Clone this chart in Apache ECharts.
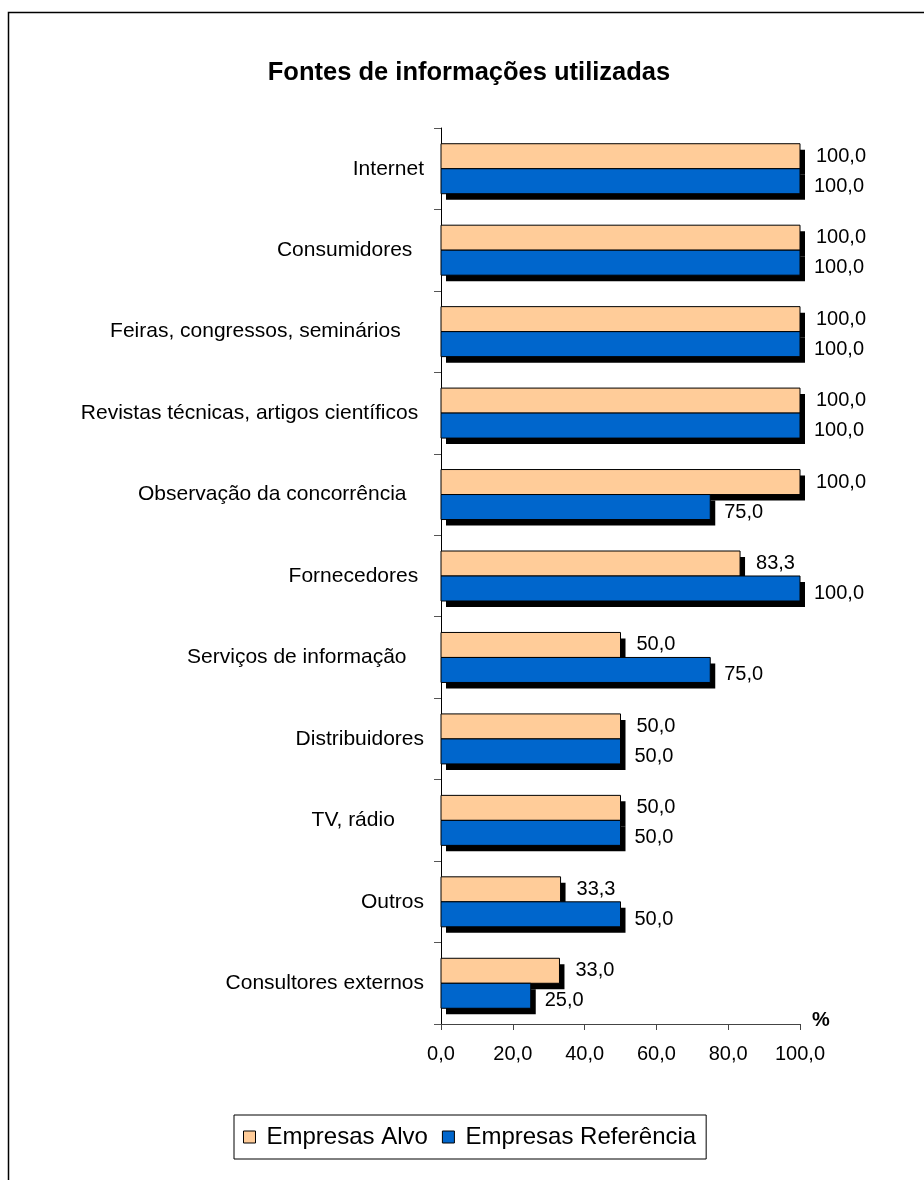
<!DOCTYPE html>
<html>
<head>
<meta charset="utf-8">
<script src="https://cdn.jsdelivr.net/npm/echarts@6/dist/echarts.min.js"></script>
<style>
  html, body { margin: 0; padding: 0; background: #fff; }
  #chart { width: 924px; height: 1180px; }
</style>
</head>
<body>
<div id="chart"></div>
<script>
// Information sources used by companies (%)
const categories = [
  'Internet',
  'Consumidores  ',
  'Feiras, congressos, seminários    ',
  'Revistas técnicas, artigos científicos ',
  'Observação da concorrência   ',
  'Fornecedores ',
  'Serviços de informação   ',
  'Distribuidores',
  'TV, rádio     ',
  'Outros',
  'Consultores externos'
];
const empresasAlvo =       [100.0, 100.0, 100.0, 100.0, 100.0, 83.3, 50.0, 50.0, 50.0, 33.3, 33.0];
const empresasReferencia = [100.0, 100.0, 100.0, 100.0,  75.0, 100.0, 75.0, 50.0, 50.0, 50.0, 25.0];
const xTicks = [0, 20, 40, 60, 80, 100];
const seriesNames = ['Empresas Alvo', 'Empresas Referência'];
const seriesColors = ['#FFCC99', '#0066CC'];

const FONT = 'Arial, "Liberation Sans", sans-serif';
const fmt = v => Number(v).toFixed(1).replace('.', ',');

const BAR_H = 25;          // thickness of one bar, px
const SHADOW = [5, 6];     // drop shadow offset, px

// Bar with a solid drop shadow and its value label; slot 0 sits above the
// category centre, slot 1 below it.
function makeRenderItem(slot, labelGap, labelDy) {
  return function (params, api) {
    const value = api.value(0);
    const cat = api.value(1);
    const p0 = api.coord([0, cat]);
    const p1 = api.coord([value, cat]);
    const top = p0[1] - BAR_H + slot * BAR_H;
    const w = p1[0] - p0[0];
    return {
      type: 'group',
      children: [
        {
          type: 'rect',
          shape: { x: p0[0] + SHADOW[0], y: top + SHADOW[1], width: w, height: BAR_H },
          style: { fill: '#000' }
        },
        {
          type: 'rect',
          shape: { x: p0[0], y: top, width: w, height: BAR_H },
          style: { fill: seriesColors[slot], stroke: '#000', lineWidth: 1 }
        },
        {
          type: 'text',
          style: {
            x: p1[0] + labelGap,
            y: top + BAR_H / 2 + labelDy,
            text: fmt(value),
            fill: '#000',
            font: '20px ' + FONT,
            textAlign: 'left',
            textVerticalAlign: 'middle'
          }
        }
      ]
    };
  };
}

const chart = echarts.init(document.getElementById('chart'), null, { renderer: 'canvas' });

chart.setOption({
  backgroundColor: '#fff',
  animation: false,
  title: {
    text: 'Fontes de informações utilizadas',
    left: 464,
    top: 55,
    textAlign: 'center',
    textStyle: { fontFamily: FONT, fontSize: 25.5, fontWeight: 'bold', color: '#000' }
  },
  graphic: [{
    type: 'rect',
    shape: { x: 8.5, y: 12.5, width: 1000, height: 1300 },
    style: { fill: null, stroke: '#000', lineWidth: 1.5 },
    silent: true,
    z: -10
  }],
  legend: {
    data: seriesNames,
    left: 234,
    top: 1115,
    orient: 'horizontal',
    icon: 'rect',
    itemWidth: 12,
    itemHeight: 12,
    itemGap: 14,
    padding: [10, 10, 10, 9],
    borderColor: '#000',
    borderWidth: 1,
    backgroundColor: '#fff',
    itemStyle: { borderColor: '#000', borderWidth: 1 },
    textStyle: { fontFamily: FONT, fontSize: 24, color: '#000', padding: [0, 0, 0, 6] }
  },
  grid: { left: 441, right: 124, top: 128, bottom: 156, containLabel: false },
  xAxis: {
    type: 'value',
    min: xTicks[0],
    max: xTicks[xTicks.length - 1],
    interval: xTicks[1] - xTicks[0],
    name: '%',
    nameLocation: 'end',
    nameGap: 12,
    nameTextStyle: { fontFamily: FONT, fontSize: 20, fontWeight: 'bold', color: '#000', verticalAlign: 'bottom', padding: [0, 0, -6, 0] },
    splitLine: { show: false },
    axisLine: { show: true, lineStyle: { color: '#444', width: 1 } },
    axisTick: { show: true, inside: false, length: 6, lineStyle: { color: '#444' } },
    axisLabel: { formatter: fmt, fontFamily: FONT, fontSize: 20, color: '#000', margin: 20 }
  },
  yAxis: {
    type: 'category',
    inverse: true,
    data: categories,
    axisLine: { show: true, onZero: false, lineStyle: { color: '#000', width: 1 } },
    axisTick: { show: true, length: 7, alignWithLabel: false, lineStyle: { color: '#555' } },
    axisLabel: { fontFamily: FONT, fontSize: 21, color: '#000', margin: 17 },
    splitLine: { show: false }
  },
  series: [
    {
      name: seriesNames[0],
      type: 'custom',
      renderItem: makeRenderItem(0, 16, 0),
      data: empresasAlvo.map((v, i) => [v, i]),
      encode: { x: 0, y: 1 },
      itemStyle: { color: seriesColors[0] },
      clip: false,
      z: 2
    },
    {
      name: seriesNames[1],
      type: 'custom',
      renderItem: makeRenderItem(1, 14, 5),
      data: empresasReferencia.map((v, i) => [v, i]),
      encode: { x: 0, y: 1 },
      itemStyle: { color: seriesColors[1] },
      clip: false,
      z: 3
    }
  ]
});
</script>
</body>
</html>
